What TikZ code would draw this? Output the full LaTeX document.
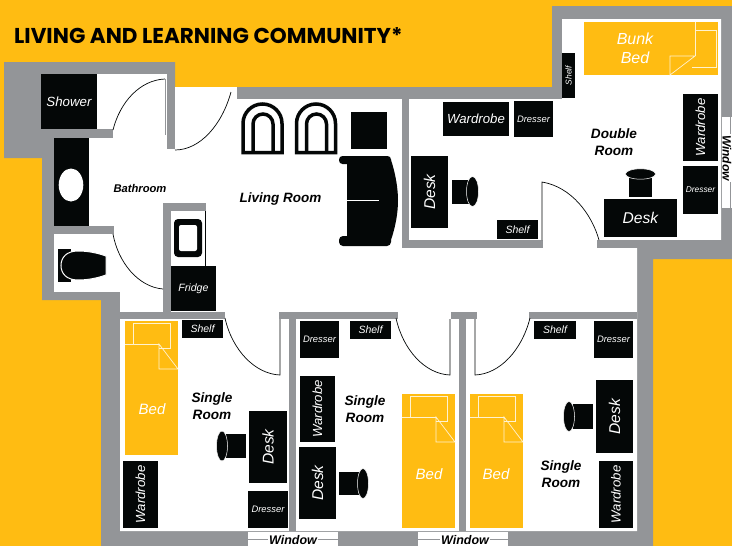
\documentclass[tikz,border=0pt]{standalone}
\usepackage{fontspec}
\setmainfont{Liberation Sans}
\newfontfamily\titlefont{Poppins}
\usetikzlibrary{calc}
\definecolor{bgy}{HTML}{FFBC12}
\definecolor{wallg}{HTML}{939598}
\definecolor{furn}{HTML}{040707}
\tikzset{
 wall/.style={fill=wallg,draw=none},
 lbl/.style={font=\fontsize{#1}{#1}\selectfont\itshape,inner sep=0pt},
 wlbl/.style={lbl=#1,text=white},
 rlbl/.style={font=\fontsize{#1}{#1}\bfseries\itshape\selectfont,inner sep=0pt,align=center,text=black},
 doorline/.style={draw=furn,line width=.7pt},
 bedline/.style={draw=white!80!bgy,line width=.7pt},
}
\newcommand{\furni}[7]{%
 \fill[furn] (#2,#3) rectangle (#4,#5);
 \node[wlbl=#7] (#1) at ($(#2,#3)!.5!(#4,#5)$) {#6};}
\newcommand{\furnr}[7]{%
 \fill[furn] (#2,#3) rectangle (#4,#5);
 \node[wlbl=#7,rotate=90] (#1) at ($(#2,#3)!.5!(#4,#5)$) {#6};}
\newcommand{\stoolh}[5]{%
 \fill[furn] (#1,#2) rectangle (#3,#4);
 \fill[furn,draw=white,line width=.5pt] (#5,{(#2+#4)/2}) ellipse [x radius=5.5,y radius=15];}
\newcommand{\armchair}[1]{%
 \begin{scope}[xshift=#1pt]
 \draw[furn,line width=3.5pt,line join=miter] (243,152.5)--(243,123.5) arc (180:360:19.5)--(282,152.5)--cycle;
 \draw[furn,line width=3.5pt] (253,152)--(253,124) arc (180:360:10)--(273,152);
 \end{scope}}
\newcommand{\bedshape}[2]{%
 \begin{scope}[shift={(#1,#2)}]
 \draw[bedline] (34,27)--(45,27)--(45,2.5)--(8,2.5)--(8,23);
 \draw[bedline] (0,23)--(34,23);
 \draw[bedline] (34,23)--(53,48)--(34,48)--cycle;
 \end{scope}}
\begin{document}
\begin{tikzpicture}[x=1pt,y=-1pt]
\useasboundingbox (0,0) rectangle (732,546);
\fill[bgy] (0,0) rectangle (732,546);
% outer walls
\fill[wall] (4,62)--(175,62)--(175,87)--(552,87)--(552,6)--(732,6)--(732,259)--(653,259)--(653,546)--(101,546)--(101,300)--(42,300)--(42,158)--(4,158)--cycle;
% floor
\fill[white] (54,74)--(167,74)--(167,87)--(562,87)--(562,19)--(721,19)--(721,240)--(637,240)--(637,531)--(120,531)--(120,292)--(54,292)--cycle;
\fill[white] (175,87) rectangle (237,99);
% inner walls
\fill[wall] (237,87) rectangle (562,99);
\fill[wall] (167,62) rectangle (175,149);
\fill[wall] (42,129) rectangle (113,138);
\fill[wall] (42,226) rectangle (114,234);
\fill[wall] (42,292) rectangle (120,300);
\fill[wall] (101,300) rectangle (120,312);
\fill[wall] (163,203) rectangle (206,211);
\fill[wall] (163,203) rectangle (171,312);
\fill[wall] (120,312) rectangle (225,319);
\fill[wall] (279,312) rectangle (398,319);
\fill[wall] (451,312) rectangle (477,319);
\fill[wall] (529,312) rectangle (637,319);
\fill[wall] (289,319) rectangle (296,531);
\fill[wall] (459,319) rectangle (466,531);
\fill[wall] (402,99) rectangle (409,248);
\fill[wall] (402,240) rectangle (543,248);
\fill[wall] (597,240) rectangle (732,248);
% windows
\fill[white] (722,117) rectangle (732,208);
\fill[white] (248,532) rectangle (338,546);
\fill[white] (418,532) rectangle (508,546);
\draw[wallg,line width=.8pt] (730.5,117)--(730.5,208);
\draw[wallg,line width=.8pt] (248,539)--(338,539);
\draw[wallg,line width=.8pt] (418,539)--(508,539);
\node[rlbl=12.5,fill=white,inner xsep=1pt,inner ysep=0pt] (winb) at (293,540) {Window};
\node[rlbl=12.5,fill=white,inner xsep=1pt,inner ysep=0pt] (winc) at (465,540) {Window};
\node[rlbl=12,rotate=-90,fill=white,inner xsep=1pt] (wina) at (727,158) {Window};
% doors
\draw[doorline] (113,130) .. controls (120,102) and (140,80) .. (165,79);
\draw[wallg,line width=.7pt] (165,79)--(165,135);
\draw[doorline] (175,150) .. controls (200,150) and (222,125) .. (231,92);
\draw[doorline] (113,234) .. controls (118,262) and (138,287) .. (163,289);
\draw[doorline] (225,318) .. controls (232,350) and (255,374) .. (280,375)--(280,319);
\draw[doorline] (396,318) .. controls (403,350) and (425,374) .. (450,375)--(450,319);
\draw[doorline] (530,318) .. controls (522,350) and (500,374) .. (475,375)--(475,319);
\draw[doorline] (542,240)--(542,182) .. controls (572,187) and (592,215) .. (599,240);
\draw[furn,line width=.5pt] (205,211)--(205,266);
% bathroom
\furni{shower}{41}{74}{97}{129}{Shower}{13.3}
\fill[furn] (54,138) rectangle (89,226);
\fill[white] (71,185) ellipse [x radius=12.3,y radius=16.5];
\fill[furn] (58,249) rectangle (71,282);
\fill[furn,draw=white,line width=1pt] (106,256) .. controls (95,252) and (85,251) .. (78,251) .. controls (66,251) and (61,258) .. (61,265.5) .. controls (61,273) and (66,280) .. (78,280) .. controls (85,280) and (95,279) .. (106,275)--cycle;
\fill[furn,rounded corners=4pt] (174,219) rectangle (202,257);
\fill[white,rounded corners=2pt] (179,225) rectangle (197,251);
\furni{fridge}{171}{266}{216}{311}{Fridge}{10.6}
\node[rlbl=11.2] (bath) at (140,188.5) {Bathroom};
% living
\armchair{0}
\armchair{53.5}
\fill[furn] (351,112) rectangle (387,149);
\fill[furn] (347,160)--(391,160) .. controls (396,175) and (398,190) .. (398,200) .. controls (398,212) and (396,225) .. (391,240)--(347,240)--cycle;
\fill[furn,rounded corners=3.5pt] (339,156) rectangle (391,164);
\fill[furn,rounded corners=4pt] (339,236) rectangle (391,246);
\draw[white,line width=.7pt] (347,200)--(379,200);
\node[rlbl=13.5] (living) at (280.5,199.5) {Living Room};
% double room
\fill[bgy] (584,22) rectangle (718,75);
\draw[bedline] (695,22)--(695,30)--(716,30)--(716,67)--(692,67);
\draw[bedline] (695,30)--(695,56);
\draw[bedline] (695,56)--(670,56)--(670,75)--cycle;
\node[wlbl=16,align=center] (bunk) at (635,48.5) {Bunk\\[2.5pt]Bed};
\furnr{shelfd}{562}{53}{575}{98}{Shelf}{8.5}
\furni{wardd}{443}{102}{509}{136}{Wardrobe}{13.2}
\furni{dressd}{514}{101}{553}{137}{Dresser}{9.4}
\furnr{wardr}{683}{94}{718}{161}{Wardrobe}{13.2}
\furni{dressr}{683}{166}{718}{214}{Dresser}{8.4}
\fill[furn] (629,177) rectangle (652,197);
\fill[furn,draw=white,line width=.5pt] (640.5,174) ellipse [x radius=15,y radius=5.2];
\furni{deskd}{604}{199}{677}{237}{Desk}{15.6}
\furni{shelfb}{497}{220}{538}{239}{Shelf}{10.5}
\furnr{deskl}{411}{156}{448}{228}{Desk}{15.6}
\fill[furn] (452,180) rectangle (469,204);
\fill[furn,draw=white,line width=.5pt] (472.5,191.5) ellipse [x radius=6,y radius=15];
\node[rlbl=13.6] (dbl) at (614,142.5) {Double\\[3.5pt]Room};
% room 1
\fill[bgy] (125,321) rectangle (178,455);
\bedshape{125}{321}
\node[wlbl=15] (bed1) at (152,409) {Bed};
\furni{shelf1}{182}{320}{223}{338}{Shelf}{10.5}
\furnr{ward1}{123}{461}{158}{528}{Wardrobe}{13.2}
\furnr{desk1}{249}{411}{287}{483}{Desk}{15.6}
\furni{dress1}{248}{491}{288}{528}{Dresser}{9.4}
\stoolh{226}{434}{246}{458}{222}
\node[rlbl=13.6] (s1) at (212,406) {Single\\[3.5pt]Room};
% room 2
\furni{dress2}{300}{321}{339}{358}{Dresser}{9.4}
\furni{shelf2}{350}{321}{391}{339}{Shelf}{10.5}
\furnr{ward2}{300}{376}{335}{442}{Wardrobe}{13.2}
\furnr{desk2}{299}{447}{336}{519}{Desk}{15.6}
\stoolh{339}{472}{360}{495}{363}
\node[rlbl=13.6] (s2) at (365,409) {Single\\[3.5pt]Room};
\fill[bgy] (402,394) rectangle (455,528);
\bedshape{402}{394}
\node[wlbl=15] (bed2) at (429,474) {Bed};
% room 3
\fill[bgy] (470,394) rectangle (523,528);
\bedshape{470}{394}
\node[wlbl=15] (bed3) at (496,474) {Bed};
\furni{shelf3}{534}{321}{576}{339}{Shelf}{10.5}
\furni{dress3}{594}{321}{633}{358}{Dresser}{9.4}
\furnr{desk3}{596}{380}{633}{453}{Desk}{15.6}
\furnr{ward3}{599}{461}{633}{528}{Wardrobe}{13.2}
\stoolh{573}{404}{593}{429}{569}
\node[rlbl=13.6] (s3) at (561,474) {Single\\[3.5pt]Room};
% title
\node[font=\titlefont\fontsize{21.5}{21.5}\bfseries\selectfont,anchor=west,inner sep=0pt] (title) at (14,36) {LIVING AND LEARNING COMMUNITY*};
\end{tikzpicture}
\end{document}
